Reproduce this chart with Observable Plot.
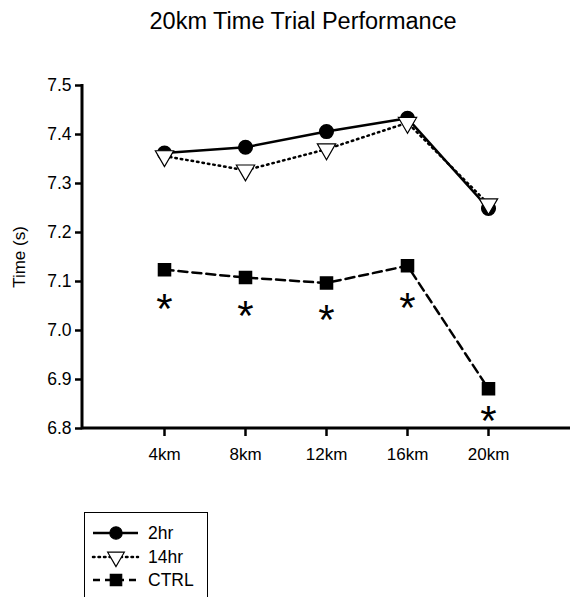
<!DOCTYPE html>
<html>
<head>
<meta charset="utf-8">
<script src="https://cdn.jsdelivr.net/npm/d3@7"></script>
<script src="https://cdn.jsdelivr.net/npm/@observablehq/plot@0.6"></script>
<style>
  html, body { margin: 0; padding: 0; background: #fff; }
  body { width: 570px; height: 597px; overflow: hidden; font-family: Arial, "Liberation Sans", sans-serif; }
  #title { height: 50px; width: 570px; text-align: center; font-size: 23.5px; line-height: 42px; color: #000; padding-left: 36px; box-sizing: border-box; }
  #legend { position: absolute; left: 0; top: 0; }
</style>
</head>
<body>
<div id="title">20km Time Trial Performance</div>
<div id="chart"></div>
<script>
// Data
const distances = ["4km", "8km", "12km", "16km", "20km"];
const hr2 = [7.362, 7.374, 7.406, 7.433, 7.249];
const hr14 = [7.356, 7.327, 7.370, 7.424, 7.258];
const ctrl = [7.124, 7.108, 7.097, 7.132, 6.881];
const starY = [7.065, 7.051, 7.043, 7.068, 6.836];
const yTicks = [6.8, 6.9, 7.0, 7.1, 7.2, 7.3, 7.4, 7.5];
const seriesNames = ["2hr", "14hr", "CTRL"];
const yLabel = "Time (s)";

const rows = (vals, name) => distances.map((d, i) => ({dist: d, value: vals[i], series: name}));
const d2 = rows(hr2, "2hr");
const d14 = rows(hr14, "14hr");
const dc = rows(ctrl, "CTRL");
const stars = rows(starY, "star");

const font = "Arial, 'Liberation Sans', sans-serif";

const plot = Plot.plot({
  width: 570,
  height: 450,
  marginLeft: 82,
  marginRight: 0,
  marginTop: 35,
  marginBottom: 72,
  style: {fontFamily: font, color: "#000", background: "#fff", fontSize: "17px"},
  x: {type: "point", domain: distances, padding: 1},
  y: {domain: [6.8, 7.5]},
  marks: [
    Plot.axisY({ticks: yTicks, tickFormat: d3.format(".1f"), tickSize: 7, strokeWidth: 2.5, tickPadding: 4, fontSize: 17.5,
      label: null}),
    Plot.text([yLabel], {frameAnchor: "left", textAnchor: "middle", dx: -63, rotate: -90, fontSize: 17, fill: "#000"}),
    Plot.axisX({tickSize: 8, strokeWidth: 2.5, tickPadding: 11, fontSize: 17, label: null}),
    Plot.line(d14, {x: "dist", y: "value", stroke: "#000", strokeWidth: 2.5, strokeDasharray: "1.5,4", strokeLinecap: "round"}),
    Plot.line(d2, {x: "dist", y: "value", stroke: "#000", strokeWidth: 2.5}),
    Plot.line(dc, {x: "dist", y: "value", stroke: "#000", strokeWidth: 2.5, strokeDasharray: "9,5"}),
    Plot.dot(d2, {x: "dist", y: "value", symbol: "circle", r: 6.8, fill: "#000", stroke: "#000"}),
    Plot.dot(d14, {x: "dist", y: "value", symbol: "triangle", rotate: 180, r: 6.8, fill: "#fff", stroke: "#000", strokeWidth: 1.2}),
    Plot.dot(dc, {x: "dist", y: "value", symbol: "square", r: 6.8, fill: "#000", stroke: "#000"}),
    Plot.text(stars, {x: "dist", y: "value", text: () => "*", fontSize: 42, dy: 11, fill: "#000", fontFamily: "'Liberation Sans', Arial, sans-serif"})
  ]
});

// draw axis lines via library scales
const svg = d3.select(plot);
const ys = plot.scale("y");
svg.append("line").attr("x1", 82).attr("x2", 82).attr("y1", ys.apply(7.5) - 1).attr("y2", ys.apply(6.8) + 1.25).attr("stroke", "#000").attr("stroke-width", 3);
svg.append("line").attr("x1", 82).attr("x2", 570).attr("y1", ys.apply(6.8)).attr("y2", ys.apply(6.8)).attr("stroke", "#000").attr("stroke-width", 3);
document.getElementById("chart").appendChild(plot);

// Legend
const leg = d3.select("body").append("svg").attr("id", "legend").attr("width", 570).attr("height", 597);
leg.append("rect").attr("x", 84.5).attr("y", 512.5).attr("width", 123).attr("height", 100).attr("fill", "none").attr("stroke", "#000").attr("stroke-width", 1);
const legRows = [
  {name: seriesNames[0], y: 533, dash: null, sym: "circle"},
  {name: seriesNames[1], y: 557, dash: "1.5,4", sym: "triangle"},
  {name: seriesNames[2], y: 580, dash: "7,5", sym: "square"}
];
legRows.forEach(r => {
  leg.append("line").attr("x1", 93).attr("x2", 138).attr("y1", r.y).attr("y2", r.y)
    .attr("stroke", "#000").attr("stroke-width", 2.5).attr("stroke-dasharray", r.dash).attr("stroke-linecap", r.dash === "1.5,4" ? "round" : "butt");
  const sym = r.sym === "circle" ? d3.symbolCircle : r.sym === "triangle" ? d3.symbolTriangle : d3.symbolSquare;
  const size = r.sym === "square" ? 130 : 120;
  leg.append("path").attr("d", d3.symbol(sym, size)())
    .attr("transform", `translate(116,${r.y})` + (r.sym === "triangle" ? " rotate(180)" : ""))
    .attr("fill", r.sym === "triangle" ? "#fff" : "#000").attr("stroke", "#000").attr("stroke-width", 1.2);
  leg.append("text").attr("x", 148).attr("y", r.y).attr("dy", "0.35em").attr("font-size", 17.5).attr("font-family", font).text(r.name);
});
</script>
</body>
</html>
